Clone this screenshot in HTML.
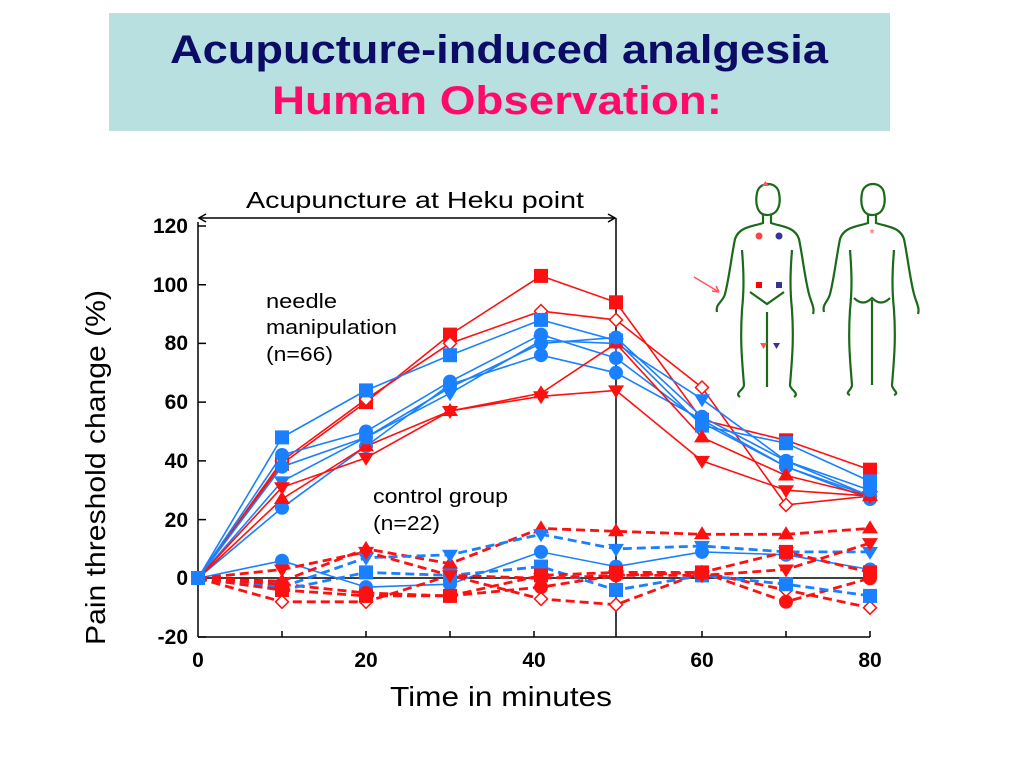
<!DOCTYPE html>
<html><head><meta charset="utf-8"><style>
body{margin:0;background:#fff;width:1024px;height:767px;overflow:hidden;font-family:"Liberation Sans",sans-serif}
</style></head><body>
<svg width="1024" height="767" xmlns="http://www.w3.org/2000/svg" xmlns:xlink="http://www.w3.org/1999/xlink" font-family="Liberation Sans, sans-serif">
<defs>
<rect id="rsq" x="-7" y="-7" width="14" height="14" fill="#ff1010"/>
<rect id="bsq" x="-7" y="-7" width="14" height="14" fill="#1a80ff"/>
<circle id="rci" r="7" fill="#ff1010"/>
<circle id="bci" r="7" fill="#1a80ff"/>
<path id="rtu" d="M0,-8l8,13h-16z" fill="#ff1010"/>
<path id="rtd" d="M-8,-5h16l-8,13z" fill="#ff1010"/>
<path id="btd" d="M-8,-5h16l-8,13z" fill="#1a80ff"/>
<path id="rod" d="M0,-6.5l6.5,6.5l-6.5,6.5l-6.5,-6.5z" fill="#fff" stroke="#ff1010" stroke-width="1.5"/>
</defs>
<rect x="109" y="13" width="781" height="118" fill="#b9e0e1"/>
<text x="170" y="63" textLength="658" lengthAdjust="spacingAndGlyphs" font-size="40" font-weight="bold" fill="#0c0c66">Acupucture-induced analgesia</text>
<text x="272" y="114" textLength="450" lengthAdjust="spacingAndGlyphs" font-size="40" font-weight="bold" fill="#ff0a6a">Human  Observation:</text>

<g stroke="#000" stroke-width="1.5" fill="none">
<line x1="198" y1="222" x2="198" y2="637"/>
<line x1="198" y1="637" x2="870" y2="637"/>
<line x1="198" y1="578" x2="870" y2="578"/>
<line x1="616" y1="218" x2="616" y2="637"/>
<line x1="200" y1="218" x2="614" y2="218"/>
<path d="M206,214 L199,218 L206,222 M608,214 L615,218 L608,222"/>
<path d="M198,226h8M198,284.7h8M198,343.4h8M198,402.1h8M198,460.9h8M198,519.6h8M198,637h8"/>
<path d="M282,637v-6M366,637v-6M450,637v-6M534,637v-6M702,637v-6M786,637v-6M870,637v-6"/>
</g>
<g font-size="21" font-weight="bold" text-anchor="end">
<text x="188" y="233">120</text><text x="188" y="292">100</text><text x="188" y="350">80</text>
<text x="188" y="409">60</text><text x="188" y="468">40</text><text x="188" y="527">20</text>
<text x="188" y="585">0</text><text x="188" y="644">-20</text>
</g>
<g font-size="21" font-weight="bold" text-anchor="middle">
<text x="198" y="667">0</text><text x="366" y="667">20</text><text x="534" y="667">40</text>
<text x="702" y="667">60</text><text x="870" y="667">80</text>
</g>
<text x="390" y="706" textLength="222" lengthAdjust="spacingAndGlyphs" font-size="28">Time in minutes</text>
<text transform="translate(105,645) rotate(-90)" textLength="355" lengthAdjust="spacingAndGlyphs" font-size="28">Pain threshold change (%)</text>
<text x="246" y="208" textLength="338" lengthAdjust="spacingAndGlyphs" font-size="23">Acupuncture at Heku point</text>
<text x="266" y="308" textLength="71" lengthAdjust="spacingAndGlyphs" font-size="20">needle</text>
<text x="266" y="334" textLength="131" lengthAdjust="spacingAndGlyphs" font-size="20">manipulation</text>
<text x="266" y="361" textLength="67" lengthAdjust="spacingAndGlyphs" font-size="20">(n=66)</text>
<text x="373" y="503" textLength="135" lengthAdjust="spacingAndGlyphs" font-size="20">control group</text>
<text x="373" y="530" textLength="67" lengthAdjust="spacingAndGlyphs" font-size="20">(n=22)</text>

<g fill="none" stroke-width="1.6">
<polyline stroke="#ff1010" points="198,578.3 282,463.8 366,402.1 450,334.6 541,275.9 616,302.3 702,419.8 786,440.3 870,469.7"/>
<polyline stroke="#ff1010" points="198,578.3 282,460.9 366,399.2 450,343.4 541,311.1 616,319.9 702,387.5 786,504.9 870,496.1"/>
<polyline stroke="#1a80ff" points="198,578.3 282,437.4 366,390.4 450,355.2 541,319.9 616,340.5 702,425.6 786,443.2 870,481.4"/>
<polyline stroke="#1a80ff" points="198,578.3 282,455.0 366,431.5 450,381.6 541,334.6 616,358.1 702,422.7 786,466.7 870,499.0"/>
<polyline stroke="#1a80ff" points="198,578.3 282,507.8 366,446.2 450,384.5 541,355.2 616,372.8 702,419.8 786,466.7 870,496.1"/>
<polyline stroke="#1a80ff" points="198,578.3 282,481.4 366,437.4 450,393.3 541,340.5 616,343.4 702,399.2 786,460.9 870,496.1"/>
<polyline stroke="#ff1010" points="198,578.3 282,499.0 366,446.2 450,411.0 541,393.3 616,343.4 702,437.4 786,475.5 870,496.1"/>
<polyline stroke="#ff1010" points="198,578.3 282,487.3 366,457.9 450,411.0 541,396.3 616,390.4 702,460.9 786,490.2 870,496.1"/>
<polyline stroke="#1a80ff" points="198,578.3 282,466.7 366,437.4 450,387.5 541,343.4 616,337.5 702,416.8 786,460.9 870,490.2"/>
<polyline stroke="#1a80ff" points="198,578.3 282,560.7 366,587.1 450,584.2 541,551.9 616,566.6 702,551.9 786,554.8 870,569.5"/>
</g>
<g fill="none" stroke-width="2.8" stroke-dasharray="9,5">
<polyline stroke="#ff1010" points="198,578.3 282,581.2 366,548.9 450,563.6 541,528.4 616,531.3 702,534.3 786,534.3 870,528.4"/>
<polyline stroke="#1a80ff" points="198,578.3 282,587.1 366,557.7 450,554.8 541,534.3 616,548.9 702,546.0 786,551.9 870,551.9"/>
<polyline stroke="#ff1010" points="198,578.3 282,601.8 366,601.8 450,575.4 541,598.9 616,604.7 702,572.4 786,590.0 870,607.7"/>
<polyline stroke="#ff1010" points="198,578.3 282,584.2 366,593.0 450,595.9 541,587.1 616,575.4 702,572.4 786,601.8 870,578.3"/>
<polyline stroke="#1a80ff" points="198,578.3 282,590.0 366,572.4 450,575.4 541,566.6 616,590.0 702,575.4 786,584.2 870,595.9"/>
<polyline stroke="#ff1010" points="198,578.3 282,590.0 366,595.9 450,595.9 541,575.4 616,572.4 702,572.4 786,551.9 870,572.4"/>
<polyline stroke="#ff1010" points="198,578.3 282,569.5 366,551.9 450,575.4 541,578.3 616,575.4 702,575.4 786,569.5 870,543.1"/>
</g>

<use xlink:href="#rsq" x="282" y="463.8"/><use xlink:href="#rsq" x="366" y="402.1"/><use xlink:href="#rsq" x="450" y="334.6"/><use xlink:href="#rsq" x="541" y="275.9"/><use xlink:href="#rsq" x="616" y="302.3"/><use xlink:href="#rsq" x="702" y="419.8"/><use xlink:href="#rsq" x="786" y="440.3"/><use xlink:href="#rsq" x="870" y="469.7"/>
<use xlink:href="#rod" x="282" y="460.9"/><use xlink:href="#rod" x="366" y="399.2"/><use xlink:href="#rod" x="450" y="343.4"/><use xlink:href="#rod" x="541" y="311.1"/><use xlink:href="#rod" x="616" y="319.9"/><use xlink:href="#rod" x="702" y="387.5"/><use xlink:href="#rod" x="786" y="504.9"/><use xlink:href="#rod" x="870" y="496.1"/>
<use xlink:href="#bsq" x="282" y="437.4"/><use xlink:href="#bsq" x="366" y="390.4"/><use xlink:href="#bsq" x="450" y="355.2"/><use xlink:href="#bsq" x="541" y="319.9"/><use xlink:href="#bsq" x="616" y="340.5"/><use xlink:href="#bsq" x="702" y="425.6"/><use xlink:href="#bsq" x="786" y="443.2"/><use xlink:href="#bsq" x="870" y="481.4"/>
<use xlink:href="#bci" x="282" y="455.0"/><use xlink:href="#bci" x="366" y="431.5"/><use xlink:href="#bci" x="450" y="381.6"/><use xlink:href="#bci" x="541" y="334.6"/><use xlink:href="#bci" x="616" y="358.1"/><use xlink:href="#bci" x="702" y="422.7"/><use xlink:href="#bci" x="786" y="466.7"/><use xlink:href="#bci" x="870" y="499.0"/>
<use xlink:href="#bci" x="282" y="507.8"/><use xlink:href="#bci" x="366" y="446.2"/><use xlink:href="#bci" x="450" y="384.5"/><use xlink:href="#bci" x="541" y="355.2"/><use xlink:href="#bci" x="616" y="372.8"/><use xlink:href="#bci" x="702" y="419.8"/><use xlink:href="#bci" x="786" y="466.7"/><use xlink:href="#bci" x="870" y="496.1"/>
<use xlink:href="#btd" x="282" y="481.4"/><use xlink:href="#btd" x="366" y="437.4"/><use xlink:href="#btd" x="450" y="393.3"/><use xlink:href="#btd" x="541" y="340.5"/><use xlink:href="#btd" x="616" y="343.4"/><use xlink:href="#btd" x="702" y="399.2"/><use xlink:href="#btd" x="786" y="460.9"/><use xlink:href="#btd" x="870" y="496.1"/>
<use xlink:href="#rtu" x="282" y="499.0"/><use xlink:href="#rtu" x="366" y="446.2"/><use xlink:href="#rtu" x="450" y="411.0"/><use xlink:href="#rtu" x="541" y="393.3"/><use xlink:href="#rtu" x="616" y="343.4"/><use xlink:href="#rtu" x="702" y="437.4"/><use xlink:href="#rtu" x="786" y="475.5"/><use xlink:href="#rtu" x="870" y="496.1"/>
<use xlink:href="#rtd" x="282" y="487.3"/><use xlink:href="#rtd" x="366" y="457.9"/><use xlink:href="#rtd" x="450" y="411.0"/><use xlink:href="#rtd" x="541" y="396.3"/><use xlink:href="#rtd" x="616" y="390.4"/><use xlink:href="#rtd" x="702" y="460.9"/><use xlink:href="#rtd" x="786" y="490.2"/><use xlink:href="#rtd" x="870" y="496.1"/>
<use xlink:href="#bci" x="282" y="466.7"/><use xlink:href="#bci" x="366" y="437.4"/><use xlink:href="#bci" x="450" y="387.5"/><use xlink:href="#bci" x="541" y="343.4"/><use xlink:href="#bci" x="616" y="337.5"/><use xlink:href="#bci" x="702" y="416.8"/><use xlink:href="#bci" x="786" y="460.9"/><use xlink:href="#bci" x="870" y="490.2"/>
<use xlink:href="#rtu" x="282" y="581.2"/><use xlink:href="#rtu" x="366" y="548.9"/><use xlink:href="#rtu" x="450" y="563.6"/><use xlink:href="#rtu" x="541" y="528.4"/><use xlink:href="#rtu" x="616" y="531.3"/><use xlink:href="#rtu" x="702" y="534.3"/><use xlink:href="#rtu" x="786" y="534.3"/><use xlink:href="#rtu" x="870" y="528.4"/>
<use xlink:href="#btd" x="282" y="587.1"/><use xlink:href="#btd" x="366" y="557.7"/><use xlink:href="#btd" x="450" y="554.8"/><use xlink:href="#btd" x="541" y="534.3"/><use xlink:href="#btd" x="616" y="548.9"/><use xlink:href="#btd" x="702" y="546.0"/><use xlink:href="#btd" x="786" y="551.9"/><use xlink:href="#btd" x="870" y="551.9"/>
<use xlink:href="#bci" x="282" y="560.7"/><use xlink:href="#bci" x="366" y="587.1"/><use xlink:href="#bci" x="450" y="584.2"/><use xlink:href="#bci" x="541" y="551.9"/><use xlink:href="#bci" x="616" y="566.6"/><use xlink:href="#bci" x="702" y="551.9"/><use xlink:href="#bci" x="786" y="554.8"/><use xlink:href="#bci" x="870" y="569.5"/>
<use xlink:href="#rod" x="282" y="601.8"/><use xlink:href="#rod" x="366" y="601.8"/><use xlink:href="#rod" x="450" y="575.4"/><use xlink:href="#rod" x="541" y="598.9"/><use xlink:href="#rod" x="616" y="604.7"/><use xlink:href="#rod" x="702" y="572.4"/><use xlink:href="#rod" x="786" y="590.0"/><use xlink:href="#rod" x="870" y="607.7"/>
<use xlink:href="#rci" x="282" y="584.2"/><use xlink:href="#rci" x="366" y="593.0"/><use xlink:href="#rci" x="450" y="595.9"/><use xlink:href="#rci" x="541" y="587.1"/><use xlink:href="#rci" x="616" y="575.4"/><use xlink:href="#rci" x="702" y="572.4"/><use xlink:href="#rci" x="786" y="601.8"/><use xlink:href="#rci" x="870" y="578.3"/>
<use xlink:href="#bsq" x="282" y="590.0"/><use xlink:href="#bsq" x="366" y="572.4"/><use xlink:href="#bsq" x="450" y="575.4"/><use xlink:href="#bsq" x="541" y="566.6"/><use xlink:href="#bsq" x="616" y="590.0"/><use xlink:href="#bsq" x="702" y="575.4"/><use xlink:href="#bsq" x="786" y="584.2"/><use xlink:href="#bsq" x="870" y="595.9"/>
<use xlink:href="#rsq" x="282" y="590.0"/><use xlink:href="#rsq" x="366" y="595.9"/><use xlink:href="#rsq" x="450" y="595.9"/><use xlink:href="#rsq" x="541" y="575.4"/><use xlink:href="#rsq" x="616" y="572.4"/><use xlink:href="#rsq" x="702" y="572.4"/><use xlink:href="#rsq" x="786" y="551.9"/><use xlink:href="#rsq" x="870" y="572.4"/>
<use xlink:href="#rtd" x="282" y="569.5"/><use xlink:href="#rtd" x="366" y="551.9"/><use xlink:href="#rtd" x="450" y="575.4"/><use xlink:href="#rtd" x="541" y="578.3"/><use xlink:href="#rtd" x="616" y="575.4"/><use xlink:href="#rtd" x="702" y="575.4"/><use xlink:href="#rtd" x="786" y="569.5"/><use xlink:href="#rtd" x="870" y="543.1"/>
<rect x="191" y="571" width="14" height="14" fill="#1a80ff"/>

<g stroke="#1a6a1a" stroke-width="2.2" fill="none">
<path d="M767,215 c-10,0 -12,-12 -10,-22 c2,-12 20,-12 22,0 c2,10 0,22 -12,22 z M763,215 v8 c-12,4 -24,4 -28,16 c-4,20 -6,40 -10,55 c-2,8 -10,10 -8,18 M771,215 v8 c12,4 24,4 28,16 c4,20 6,40 10,55 c2,8 6,14 4,20 M742,250 c2,25 2,40 0,60 c-2,30 0,50 2,75 c0,5 -10,8 -4,12 M792,250 c-2,25 -2,40 0,60 c2,30 0,50 -2,75 c0,5 10,8 4,12 M767,312 v75 M750,292 l17,12 l17,-12"/>
<path d="M872,215 c-10,0 -12,-12 -10,-22 c2,-12 20,-12 22,0 c2,10 0,22 -12,22 z M868,215 v8 c-12,4 -24,4 -28,16 c-4,20 -6,40 -10,55 c-2,8 -8,10 -6,18 M876,215 v8 c12,4 24,4 28,16 c4,20 6,40 10,55 c2,8 6,14 4,20 M850,250 c2,25 2,40 0,60 c-2,30 0,50 2,75 c0,5 -8,8 -2,10 M894,250 c-2,25 -2,40 0,60 c2,30 0,50 -2,75 c0,5 8,8 2,10 M872,300 v85 M854,298 c6,6 12,6 18,0 c6,6 12,6 18,0"/>
</g>
<circle cx="759" cy="236" r="3.5" fill="#f44"/><circle cx="779" cy="236" r="3.5" fill="#339"/>
<rect x="756" y="282" width="6" height="6" fill="#f00"/><rect x="776" y="282" width="6" height="6" fill="#339"/>
<path d="M760,343h7l-3.5,6z" fill="#f55"/><path d="M773,343h7l-3.5,6z" fill="#339"/>
<path d="M762,186h7l-3.5,-5z" fill="#f55"/>
<text x="872" y="238" text-anchor="middle" font-size="13" fill="#f55">*</text>
<path d="M694,277 L719,292" stroke="#f55" stroke-width="1.5"/><path d="M719,292 l-7,-1 M719,292 l-3,-6" stroke="#f55" stroke-width="1.5"/>
</svg>
</body></html>
